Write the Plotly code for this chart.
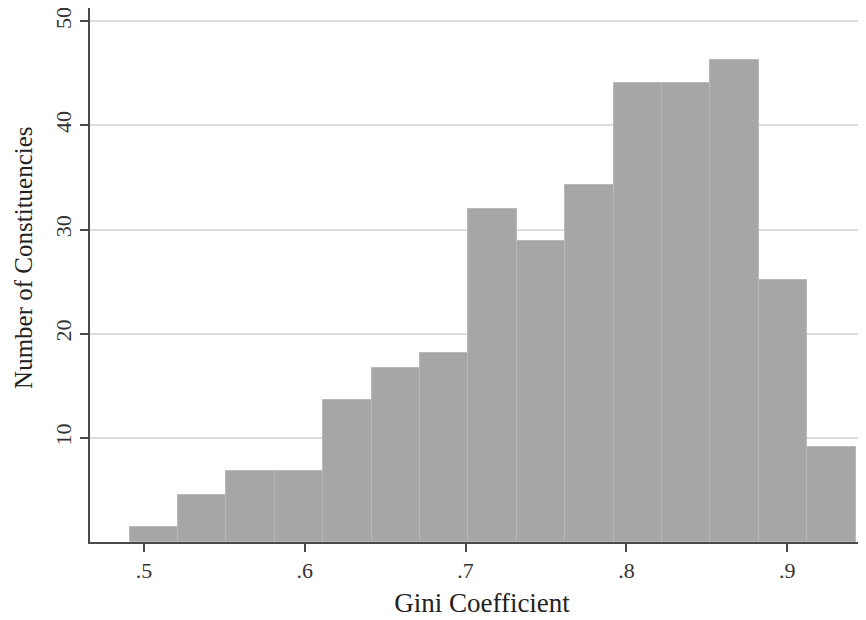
import plotly.graph_objects as go

# Data
bin_start = 0.491
bin_width = 0.0301
counts = [1.4, 4.55, 6.82, 6.82, 13.6, 16.72, 18.16, 31.93, 28.86, 34.24,
          44.03, 44.03, 46.27, 25.14, 9.1]
x_ticks = [0.5, 0.6, 0.7, 0.8, 0.9]
x_tick_labels = [".5", ".6", ".7", ".8", ".9"]
y_ticks = [10, 20, 30, 40, 50]
x_title = "Gini Coefficient"
y_title = "Number of Constituencies"

centers = [bin_start + bin_width * (i + 0.5) for i in range(len(counts))]

FONT = "Liberation Serif"
AXIS = "#4a4a4a"

fig = go.Figure(
    go.Bar(
        x=centers,
        y=counts,
        width=[bin_width] * len(counts),
        marker=dict(color="#a6a6a6", line=dict(color="#b9b9b9", width=1)),
        hoverinfo="x+y",
    )
)

fig.update_layout(
    width=866,
    height=620,
    margin=dict(l=82, r=0, t=0, b=86),
    plot_bgcolor="white",
    paper_bgcolor="white",
    showlegend=False,
    bargap=0,
    font=dict(family=FONT, size=22, color="#333333"),
    xaxis=dict(
        range=[0.4664, 0.954],
        tickvals=x_ticks,
        ticktext=x_tick_labels,
        ticks="outside",
        ticklen=8,
        tickwidth=1.5,
        tickcolor=AXIS,
        tickfont=dict(family=FONT, size=22, color="#333333"),
        showline=True,
        linecolor=AXIS,
        linewidth=1.5,
        showgrid=False,
        zeroline=False,
        title=dict(text=x_title, font=dict(family=FONT, size=27, color="#222222"), standoff=11),
    ),
    yaxis=dict(
        range=[0, 51.27],
        tickvals=y_ticks,
        ticks="outside",
        ticklen=8,
        tickwidth=1.5,
        tickcolor=AXIS,
        tickangle=-90,
        ticklabeloverflow="allow",
        tickfont=dict(family=FONT, size=22, color="#333333"),
        showline=True,
        linecolor=AXIS,
        linewidth=1.5,
        showgrid=True,
        gridcolor="#dcdcdc",
        gridwidth=1.5,
        zeroline=False,
    ),
    annotations=[
        dict(
            text=y_title,
            textangle=-90,
            xref="paper",
            yref="paper",
            x=0,
            y=0.532,
            xanchor="center",
            yanchor="middle",
            xshift=-66,
            showarrow=False,
            font=dict(family=FONT, size=25, color="#222222"),
        )
    ],
)

fig.write_html("out.html")
